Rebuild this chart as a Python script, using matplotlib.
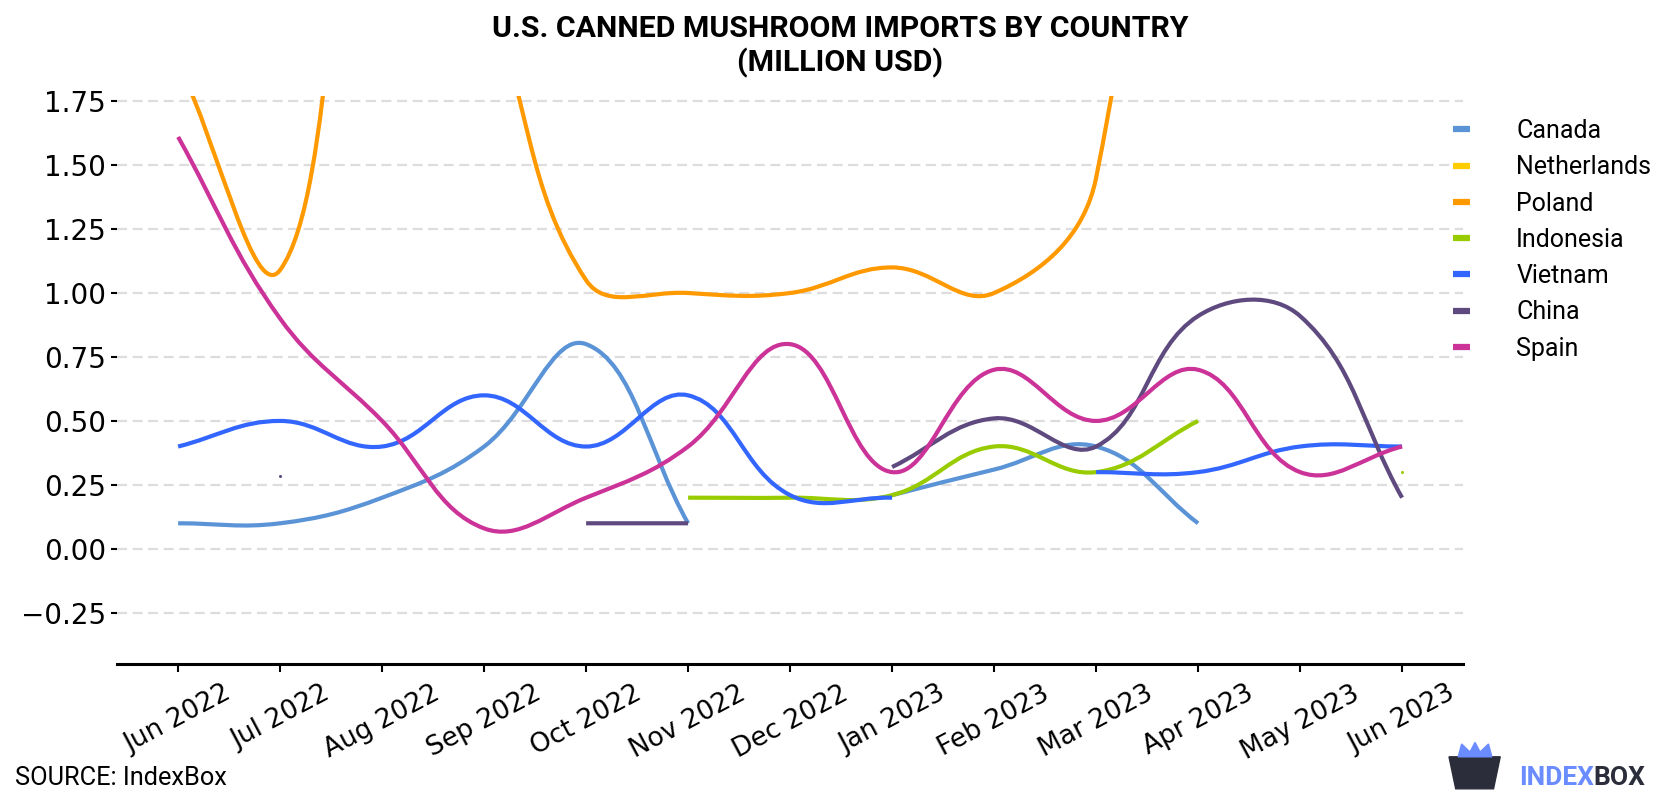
import numpy as np
import matplotlib
matplotlib.use("Agg")
import matplotlib.pyplot as plt
from matplotlib.path import Path
from matplotlib.patches import PathPatch, Polygon

# U.S. canned mushroom imports by country, million USD, Jun 2022 - Jun 2023
months = ['Jun 2022', 'Jul 2022', 'Aug 2022', 'Sep 2022', 'Oct 2022', 'Nov 2022',
          'Dec 2022', 'Jan 2023', 'Feb 2023', 'Mar 2023', 'Apr 2023', 'May 2023',
          'Jun 2023']
nan = np.nan

canada = [0.10, 0.10, 0.20, 0.40, 0.80, 0.10, nan, 0.21, 0.31, 0.40, 0.10, nan, nan]
netherlands = [nan] * 13
poland = [1.9, 1.09, 3.0, 2.2, 1.05, 1.00, 1.00, 1.10, 1.00, 1.45, 5.0, nan, nan]
indonesia = [nan, nan, nan, nan, nan, 0.20, 0.20, 0.21, 0.40, 0.30, 0.50, nan, 0.30]
vietnam = [0.40, 0.50, 0.40, 0.60, 0.40, 0.60, 0.21, 0.20, nan, 0.30, 0.30, 0.40, 0.40]
china = [nan, 0.285, nan, nan, 0.10, 0.10, nan, 0.32, 0.51, 0.40, 0.91, 0.91, 0.20]
spain = [1.61, 0.90, 0.50, 0.08, 0.20, 0.40, 0.80, 0.30, 0.70, 0.50, 0.70, 0.30, 0.40]

names = ['Canada', 'Netherlands', 'Poland', 'Indonesia', 'Vietnam', 'China', 'Spain']
series = [canada, netherlands, poland, indonesia, vietnam, china, spain]
colors = ['#5a93d6', '#ffcc00', '#ff9900', '#99cc00', '#3366ff', '#5e4a7e', '#cc3399']

# px per month / px per unit on the canvas, so the smoothing works like chart.js
SX, SY = 101.7, 256.0


def smooth_path(xs, ys, t=0.4):
    # chart.js style bezier (tension 0.4), control points computed in pixel space
    X = np.asarray(xs, float) * SX
    Y = np.asarray(ys, float) * SY
    n = len(X)
    cp_prev, cp_next = [], []
    for i in range(n):
        a, b = max(i - 1, 0), min(i + 1, n - 1)
        d01 = np.hypot(X[i] - X[a], Y[i] - Y[a])
        d12 = np.hypot(X[b] - X[i], Y[b] - Y[i])
        tot = d01 + d12
        fa = t * d01 / tot if tot else 0
        fb = t * d12 / tot if tot else 0
        dx, dy = X[b] - X[a], Y[b] - Y[a]
        cp_prev.append((X[i] - fa * dx, Y[i] - fa * dy))
        cp_next.append((X[i] + fb * dx, Y[i] + fb * dy))
    verts = [(X[0], Y[0])]
    codes = [Path.MOVETO]
    for i in range(n - 1):
        verts += [cp_next[i], cp_prev[i + 1], (X[i + 1], Y[i + 1])]
        codes += [Path.CURVE4] * 3
    verts = [(vx / SX, vy / SY) for vx, vy in verts]
    return Path(verts, codes)


fig = plt.figure(figsize=(16.8, 8), dpi=100)
ax = fig.add_axes([0.0696, 0.17, 0.871 - 0.0696, 0.71])

x = np.arange(len(months))
for name, vals, col in zip(names, series, colors):
    vals = np.asarray(vals, float)
    ok = ~np.isnan(vals)
    # split into runs of valid points
    runs, cur = [], []
    for i in range(len(vals)):
        if ok[i]:
            cur.append(i)
        elif cur:
            runs.append(cur)
            cur = []
    if cur:
        runs.append(cur)
    for r in runs:
        if len(r) == 1:
            ax.plot(x[r], vals[r], 'o', color=col, ms=2.2, mew=0, zorder=3)
        else:
            ax.add_patch(PathPatch(smooth_path(x[r], vals[r]), fill=False,
                                   edgecolor=col, lw=3, capstyle='butt',
                                   joinstyle='round', zorder=3))
    ax.plot([], [], color=col, lw=4.5, label=name, solid_capstyle='butt')

ax.set_xlim(-0.6, 12.6)
ax.set_ylim(-0.45, 1.77)
ax.set_yticks([-0.25, 0, 0.25, 0.5, 0.75, 1.0, 1.25, 1.5, 1.75])
ax.set_xticks(x)
ax.set_xticklabels(months, rotation=28, ha='center')
ax.tick_params(axis='x', labelsize=19, length=6, width=1.5, pad=6)
ax.tick_params(axis='y', labelsize=20, length=4, width=1.5, pad=4)
ax.grid(axis='y', color='#dddddd', lw=1.6, linestyle=(0, (4.5, 2.5)))
ax.set_axisbelow(True)
for s in ['left', 'right', 'top']:
    ax.spines[s].set_visible(False)
ax.spines['bottom'].set_linewidth(2.2)

leg = ax.legend(loc='upper left', bbox_to_anchor=(0.976, 0.999), frameon=False,
                prop={'family': 'Roboto', 'size': 18}, handlelength=0.65,
                handletextpad=1.86, labelspacing=0.49, borderaxespad=0.5)

fig.suptitle('U.S. CANNED MUSHROOM IMPORTS BY COUNTRY\n(MILLION USD)',
             x=0.5, y=0.981, fontsize=21.8, fontweight='bold', family='Roboto',
             linespacing=1.2)

fig.text(0.009, 0.028, 'SOURCE: IndexBox', fontsize=18.3, family='Roboto', va='center')

# IndexBox logo
icon = Polygon([(0.8625, 0.054), (0.893, 0.054), (0.889, 0.014), (0.8665, 0.014)],
               closed=True, transform=fig.transFigure, color='#2b2d3a')
crown = Polygon([(0.868, 0.054), (0.870, 0.070), (0.875, 0.060), (0.878, 0.072),
                 (0.881, 0.060), (0.886, 0.070), (0.888, 0.054)], closed=True,
                transform=fig.transFigure, color='#6b8cff')
fig.add_artist(icon)
fig.add_artist(crown)
t1 = fig.text(0.904, 0.028, 'INDEX', fontsize=19, fontweight='bold', family='Roboto',
              color='#6b8cff', va='center')
fig.canvas.draw()
bb = t1.get_window_extent().transformed(fig.transFigure.inverted())
fig.text(bb.x1, 0.028, 'BOX', fontsize=19, fontweight='bold', family='Roboto',
         color='#2b2d3a', va='center')

fig.savefig('out.png', dpi=100)
